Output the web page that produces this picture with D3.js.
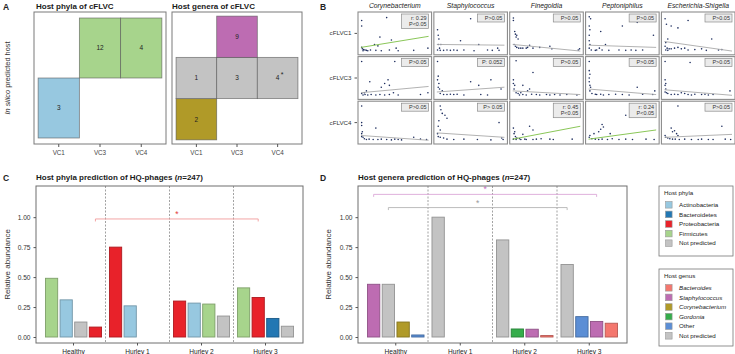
<!DOCTYPE html>
<html>
<head>
<meta charset="utf-8">
<style>
body { margin: 0; background: #fff; }
svg { display: block; font-family: "Liberation Sans", Arial, sans-serif; }
</style>
</head>
<body>
<script src="https://cdn.jsdelivr.net/npm/d3@7"></script>
<div id="chart"></div>
<script>
// ---------- data ----------
// panel A
var vcCats = ["VC1", "VC3", "VC4"];
var phylaRows = ["Actinobacteria", "Firmicutes"];
var phylaTiles = [
    ["VC1", "Actinobacteria", 3, ""],
    ["VC3", "Firmicutes", 12, ""],
    ["VC4", "Firmicutes", 4, ""]
];
var generaRows = ["Corynebacterium", "Not predicted", "Staphylococcus"];
var generaTiles = [
    ["VC1", "Corynebacterium", 2, ""],
    ["VC1", "Not predicted", 1, ""],
    ["VC3", "Not predicted", 3, ""],
    ["VC4", "Not predicted", 4, "*"],
    ["VC3", "Staphylococcus", 9, ""]
];

// panel B
var bGenera = ["Corynebacterium", "Staphylococcus", "Finegoldia", "Peptoniphilus", "Escherichia-Shigella"];
var bVCs = ["cFLVC1", "cFLVC3", "cFLVC4"];
var bStats = [
    ["r: 0.29\nP<0.05", "P>0.05", "P>0.05", "P>0.05", "P>0.05"],
    ["P>0.05", "P: 0.052", "P>0.05", "P>0.05", "P>0.05"],
    ["P>0.05", "P> 0.05", "r: 0.45\nP<0.05", "r: 0.24\nP<0.05", "P>0.05"]
];
// fitted line, y at left and right edge of each panel (0-1 of panel range)
var bLines = [
    [[0.12, 0.42], [0.2, 0.18], [0.2, 0.02], [0.18, 0.12], [0.28, 0.02]],
    [[0.1, 0.27], [0.12, 0.25], [0.15, 0.05], [0.2, 0.05], [0.18, 0.03]],
    [[0.15, 0.02], [0.22, 0.1], [0.05, 0.4], [0.05, 0.3], [0.1, 0.18]]
];
var bSignif = [
    [true, false, false, false, false],
    [false, false, false, false, false],
    [false, false, true, true, false]
];
// scatter points, [x, y] as share of the panel range
var bPoints = [
    [
        [[.01,.85],[.01,.7],[.38,.93],[.28,.4],[.45,.32],[.52,.1],[.2,.2],[.25,.16],[.01,.12],[.02,.08],[.04,.06],[.06,.05],[.08,.04],[.03,.03],[.1,.03],[.14,.05],[.22,.04],[.3,.03],[.42,.05],[.55,.03],[.78,.04],[.99,.1]],
        [[.01,.6],[.02,.45],[.03,.35],[.02,.2],[.06,.2],[.04,.1],[.1,.04],[.15,.05],[.2,.04],[.25,.05],[.3,.04],[.4,.05],[.55,.03],[.62,.2],[.75,.05],[.82,.04],[.9,.1],[.92,.04],[.5,.9],[.35,.3],[.01,.05],[.05,.04]],
        [[.01,.92],[.01,.85],[.03,.55],[.04,.48],[.06,.45],[.05,.4],[.08,.35],[.02,.2],[.04,.15],[.06,.12],[.09,.1],[.12,.1],[.15,.1],[.2,.1],[.22,.12],[.3,.1],[.25,.18],[.4,.12],[.55,.15],[.58,.08],[.97,.05],[.99,.08]],
        [[.01,.95],[.03,.9],[.01,.7],[.02,.6],[.01,.45],[.01,.3],[.02,.2],[.01,.1],[.04,.05],[.1,.04],[.12,.05],[.16,.1],[.2,.05],[.25,.2],[.18,.55],[.5,.7],[.72,.8],[.96,.45],[.3,.04],[.45,.05],[.55,.04],[.63,.05],[.7,.04],[.8,.05]],
        [[.01,.9],[.03,.75],[.1,.7],[.2,.65],[.35,.85],[.05,.35],[.02,.25],[.01,.15],[.04,.1],[.07,.08],[.1,.08],[.15,.1],[.2,.12],[.25,.08],[.3,.1],[.35,.05],[.45,.06],[.55,.08],[.62,.04],[.7,.35],[.8,.05],[.85,.06],[.02,.05],[.05,.04]]
    ],
    [
        [[.01,.95],[.5,.95],[.13,.4],[.35,.35],[.4,.45],[.42,.3],[.3,.25],[.05,.1],[.01,.08],[.03,.04],[.06,.05],[.1,.04],[.15,.05],[.22,.04],[.28,.05],[.35,.04],[.42,.05],[.48,.1],[.55,.04],[.88,.05],[.99,.1],[.08,.15]],
        [[.01,.95],[.02,.55],[.01,.45],[.03,.35],[.02,.25],[.04,.2],[.08,.15],[.5,.4],[.8,.45],[.62,.3],[.95,.2],[.05,.08],[.1,.05],[.15,.05],[.2,.06],[.25,.05],[.3,.06],[.4,.04],[.65,.05],[.75,.04]],
        [[.05,.97],[.3,.65],[.01,.45],[.01,.35],[.03,.3],[.02,.2],[.15,.3],[.25,.2],[.22,.15],[.05,.1],[.08,.08],[.12,.1],[.1,.04],[.15,.05],[.2,.04],[.28,.06],[.35,.05],[.4,.04],[.5,.05],[.55,.04],[.62,.05],[.7,.04],[.8,.05],[.95,.04]],
        [[.01,.95],[.01,.7],[.02,.6],[.01,.5],[.01,.4],[.02,.3],[.03,.25],[.02,.15],[.05,.08],[.1,.06],[.12,.05],[.18,.06],[.22,.04],[.3,.05],[.4,.06],[.5,.05],[.6,.04],[.72,.25],[.8,.06],[.98,.15],[.95,.05]],
        [[.01,.95],[.38,.92],[.01,.45],[.02,.35],[.01,.3],[.02,.2],[.01,.12],[.03,.1],[.05,.08],[.1,.05],[.15,.06],[.2,.05],[.25,.1],[.3,.08],[.35,.05],[.4,.04],[.45,.06],[.55,.05],[.6,.06],[.65,.04],[.72,.05],[.97,.15]]
    ],
    [
        [[.01,.95],[.01,.5],[.01,.42],[.22,.35],[.02,.25],[.01,.2],[.01,.12],[.03,.1],[.05,.06],[.08,.04],[.12,.05],[.18,.04],[.25,.04],[.3,.05],[.38,.04],[.45,.03],[.5,.05],[.55,.04],[.6,.03],[.78,.1],[.88,.05],[.97,.04]],
        [[.05,.95],[.06,.85],[.08,.75],[.12,.7],[.15,.62],[.03,.55],[.02,.4],[.05,.3],[.01,.2],[.02,.12],[.05,.1],[.1,.08],[.15,.05],[.25,.04],[.4,.05],[.6,.04],[.8,.03],[.92,.5],[.96,.08],[.98,.04]],
        [[.01,.35],[.03,.25],[.02,.2],[.25,.4],[.3,.3],[.15,.18],[.04,.12],[.06,.08],[.1,.06],[.12,.04],[.18,.05],[.2,.04],[.3,.04],[.35,.05],[.42,.06],[.55,.05],[.6,.04],[.88,.05],[.05,.04],[.01,.05]],
        [[.72,.98],[.55,.7],[.2,.45],[.22,.38],[.18,.32],[.15,.25],[.08,.2],[.32,.2],[.02,.15],[.01,.1],[.05,.06],[.1,.05],[.15,.04],[.2,.05],[.28,.04],[.35,.06],[.45,.04],[.55,.05],[.65,.04],[.85,.05],[.97,.04]],
        [[.2,.95],[.1,.35],[.15,.28],[.12,.25],[.18,.2],[.2,.15],[.01,.15],[.02,.1],[.05,.08],[.08,.06],[.12,.05],[.16,.05],[.22,.04],[.3,.05],[.4,.04],[.5,.04],[.55,.05],[.65,.04],[.72,.04],[.85,.4],[.9,.05],[.98,.04]]
    ]
];

// panels C and D
var groups = ["Healthy", "Hurley 1", "Hurley 2", "Hurley 3"];
var yTicks = [0, 0.25, 0.5, 0.75, 1];
// each group: [host, relative abundance], in drawing order
var phylaHealthy = [["Firmicutes", 0.49], ["Actinobacteria", 0.31], ["Not predicted", 0.125], ["Proteobacteria", 0.083]];
var phylaHurley1 = [["Proteobacteria", 0.75], ["Actinobacteria", 0.26]];
var phylaHurley2 = [["Proteobacteria", 0.30], ["Actinobacteria", 0.283], ["Firmicutes", 0.275], ["Not predicted", 0.175]];
var phylaHurley3 = [["Firmicutes", 0.41], ["Proteobacteria", 0.33], ["Bacteroidetes", 0.155], ["Not predicted", 0.09]];
var genusHealthy = [["Staphylococcus", 0.44], ["Not predicted", 0.44], ["Corynebacterium", 0.125], ["Other", 0.017]];
var genusHurley1 = [["Not predicted", 1.0]];
var genusHurley2 = [["Not predicted", 0.81], ["Gordonia", 0.067], ["Staphylococcus", 0.065], ["Bacteroides", 0.012]];
var genusHurley3 = [["Not predicted", 0.605], ["Other", 0.17], ["Staphylococcus", 0.13], ["Bacteroides", 0.115]];

var phylaKeys = ["Actinobacteria", "Bacteroidetes", "Proteobacteria", "Firmicutes", "Not predicted"];
var phylaFill = ["#97c8e0", "#2277b3", "#e8222a", "#a7d48c", "#c3c3c3"];
var genusKeys = ["Bacteroides", "Staphylococcus", "Corynebacterium", "Gordonia", "Other", "Not predicted"];
var genusFill = ["#f4776e", "#bd6cb2", "#b09a28", "#35ad4b", "#5b8ed5", "#c3c3c3"];

// significance brackets: [from group, from host, to group, to host, line colour, star colour, level]
var phylaBrackets = [["Healthy", "Proteobacteria", "Hurley 3", "Proteobacteria", "#f29b9b", "#e23c3c", 0.985]];
var genusBrackets = [
    ["Healthy", "Staphylococcus", "Hurley 3", "Staphylococcus", "#dba8d8", "#c46fbf", 1.19],
    ["Healthy", "Not predicted", "Hurley 3", "Not predicted", "#b5b5b5", "#999999", 1.08]
];

// ---------- chart ----------
var svg = d3.select("#chart").append("svg")
    .attr("width", 735)
    .attr("height", 354);

var phylaColor = d3.scaleOrdinal().domain(phylaKeys).range(phylaFill);
var genusColor = d3.scaleOrdinal().domain(genusKeys).range(genusFill);

function panelLetter(t, x, y) {
    svg.append("text").attr("x", x).attr("y", y)
        .attr("font-size", 8.5).attr("font-weight", "bold").attr("fill", "#222").text(t);
}
function title(x, y, parts) {
    var t = svg.append("text").attr("x", x).attr("y", y)
        .attr("font-size", 8).attr("font-weight", "bold").attr("fill", "#1a1a1a");
    parts.forEach(function(p) {
        t.append("tspan").attr("font-style", p[1] ? "italic" : null).text(p[0]);
    });
}

// panel A
panelLetter("A", 3, 10);
title(36, 9, [["Host phyla of cFLVC"]]);
title(172, 9, [["Host genera of cFLVC"]]);

var ylab = svg.append("text")
    .attr("transform", "translate(10,78) rotate(-90)")
    .attr("text-anchor", "middle").attr("font-size", 7.4).attr("fill", "#333");
ylab.append("tspan").attr("font-style", "italic").text("In silico");
ylab.append("tspan").text(" predicted host");

function tilePanel(left, right, top, bottom, rows, tiles, colorOf) {
    var x = d3.scaleBand().domain(vcCats).range([left, right]).paddingOuter(0.1);
    var y = d3.scaleBand().domain(rows).range([bottom, top]).paddingOuter(0.1);
    var g = svg.append("g");
    g.selectAll("rect.tile").data(tiles).enter().append("rect")
        .attr("x", function(d) { return x(d[0]); })
        .attr("y", function(d) { return y(d[1]); })
        .attr("width", x.bandwidth())
        .attr("height", y.bandwidth())
        .attr("fill", function(d) { return colorOf(d[1]); })
        .attr("stroke", "#555").attr("stroke-opacity", 0.7).attr("stroke-width", 0.8);
    g.selectAll("text.num").data(tiles).enter().append("text")
        .attr("x", function(d) { return x(d[0]) + x.bandwidth() / 2; })
        .attr("y", function(d) { return y(d[1]) + y.bandwidth() / 2 + 2.3; })
        .attr("text-anchor", "middle").attr("font-size", 6.5).attr("fill", "#222")
        .text(function(d) { return d[2]; });
    g.selectAll("text.star").data(tiles.filter(function(d) { return d[3]; })).enter().append("text")
        .attr("x", function(d) { return x(d[0]) + x.bandwidth() / 2 + 3; })
        .attr("y", function(d) { return y(d[1]) + y.bandwidth() / 2 - 1; })
        .attr("font-size", 7).attr("fill", "#222")
        .text(function(d) { return d[3]; });
    g.append("rect").attr("x", left).attr("y", top)
        .attr("width", right - left).attr("height", bottom - top)
        .attr("fill", "none").attr("stroke", "#7a7a7a").attr("stroke-width", 1);
    var ax = g.append("g").attr("transform", "translate(0," + bottom + ")")
        .call(d3.axisBottom(x).tickSize(3).tickSizeOuter(0));
    ax.select(".domain").remove();
    ax.selectAll("line").attr("stroke", "#555");
    ax.selectAll("text").attr("font-size", 6.3).attr("fill", "#444").attr("font-family", null).attr("dy", "0.8em");
}
tilePanel(34, 166, 12, 144, phylaRows, phylaTiles, phylaColor);
tilePanel(172, 302, 12, 144, generaRows, generaTiles, genusColor);

// panel B
panelLetter("B", 320, 10);
var bCol = d3.scaleBand().domain(bGenera).range([358, 735]).paddingInner(0.03);
var bRow = d3.scaleBand().domain(bVCs).range([12, 144]).paddingInner(0.04);

svg.selectAll("text.coltitle").data(bGenera).enter().append("text")
    .attr("x", function(d) { return bCol(d) + bCol.bandwidth() / 2; })
    .attr("y", 7.5)
    .attr("text-anchor", "middle").attr("font-size", 6.8).attr("font-style", "italic").attr("fill", "#222")
    .text(function(d) { return d; });

var rowAxis = svg.append("g").attr("transform", "translate(357,0)")
    .call(d3.axisLeft(bRow).tickSize(2.5).tickSizeOuter(0));
rowAxis.select(".domain").remove();
rowAxis.selectAll("line").attr("stroke", "#555");
rowAxis.selectAll("text").attr("font-size", 6.2).attr("fill", "#333").attr("font-family", null);

bVCs.forEach(function(vc, r) {
    bGenera.forEach(function(gen, c) {
        var x0 = bCol(gen), y0 = bRow(vc), w = bCol.bandwidth(), h = bRow.bandwidth();
        var px = d3.scaleLinear().domain([0, 1]).range([x0 + 3, x0 + w - 3]);
        var py = d3.scaleLinear().domain([0, 1]).range([y0 + h - 3, y0 + 3]);
        var g = svg.append("g");
        g.append("rect").attr("x", x0).attr("y", y0).attr("width", w).attr("height", h)
            .attr("fill", "#fff");
        g.selectAll("circle").data(bPoints[r][c]).enter().append("circle")
            .attr("cx", function(d) { return px(d[0]); })
            .attr("cy", function(d) { return py(d[1]); })
            .attr("r", 0.8).attr("fill", "#1d2d5e");
        var ln = bLines[r][c];
        g.append("line")
            .attr("x1", px(0)).attr("y1", py(ln[0]))
            .attr("x2", px(1)).attr("y2", py(ln[1]))
            .attr("stroke", bSignif[r][c] ? "#7dbf45" : "#a9a9a9").attr("stroke-width", 0.9);
        g.append("rect").attr("x", x0).attr("y", y0).attr("width", w).attr("height", h)
            .attr("fill", "none").attr("stroke", "#8c8c8c").attr("stroke-width", 1.1);
        var lines = bStats[r][c].split("\n");
        var bh = lines.length * 6.5 + 1.5;
        g.append("rect").attr("x", x0 + w - 30).attr("y", y0 + 2)
            .attr("width", 27).attr("height", bh)
            .attr("fill", "#ebebeb").attr("stroke", "#8c8c8c").attr("stroke-width", 0.7);
        lines.forEach(function(s, i) {
            g.append("text").attr("x", x0 + w - 5).attr("y", y0 + 7.5 + i * 6.5)
                .attr("text-anchor", "end").attr("font-size", 5.5).attr("fill", "#333").text(s);
        });
    });
});

// panels C and D
function barPanel(box, data, colorOf, brackets, axisLabelX) {
    var x = d3.scaleBand().domain(groups).range([box.left + 5.5, box.right - 5.5]);
    var slot = d3.scaleBand().domain([0, 1, 2, 3]).range([0, x.bandwidth()])
        .paddingInner(0.163).paddingOuter(0.27);
    var y = d3.scaleLinear().domain([-0.05, 1.26]).range([box.bottom, box.top]);
    var g = svg.append("g");

    // dashed group separators
    g.selectAll("line.sep").data(groups.slice(1)).enter().append("line")
        .attr("x1", function(d) { return x(d) - (x.step() - x.bandwidth()) / 2; })
        .attr("x2", function(d) { return x(d) - (x.step() - x.bandwidth()) / 2; })
        .attr("y1", box.top).attr("y2", box.bottom)
        .attr("stroke", "#8a8a8a").attr("stroke-width", 0.8).attr("stroke-dasharray", "2,1.5");

    var flat = [];
    groups.forEach(function(gr, gi) {
        data[gi].forEach(function(d, i) { flat.push({group: gr, host: d[0], value: d[1], i: i}); });
    });
    g.selectAll("rect.bar").data(flat).enter().append("rect")
        .attr("x", function(d) { return x(d.group) + slot(d.i); })
        .attr("y", function(d) { return y(d.value); })
        .attr("width", slot.bandwidth())
        .attr("height", function(d) { return y(0) - y(d.value); })
        .attr("fill", function(d) { return colorOf(d.host); })
        .attr("stroke", function(d) { return d3.color(colorOf(d.host)).darker(0.8); })
        .attr("stroke-width", 0.9);

    function centerOf(gr, host) {
        var gi = groups.indexOf(gr);
        var idx = data[gi].findIndex(function(d) { return d[0] === host; });
        return x(gr) + slot(idx) + slot.bandwidth() / 2;
    }
    brackets.forEach(function(b) {
        var xa = centerOf(b[0], b[1]), xb = centerOf(b[2], b[3]), yy = y(b[6]);
        g.append("path")
            .attr("d", "M" + xa + "," + (yy + 2.5) + "V" + yy + "H" + xb + "V" + (yy + 2.5))
            .attr("fill", "none").attr("stroke", b[4]).attr("stroke-width", 0.9);
        g.append("text").attr("x", (xa + xb) / 2).attr("y", yy - 2)
            .attr("text-anchor", "middle").attr("font-size", 8.5).attr("fill", b[5]).text("*");
    });

    g.append("rect").attr("x", box.left).attr("y", box.top)
        .attr("width", box.right - box.left).attr("height", box.bottom - box.top)
        .attr("fill", "none").attr("stroke", "#6e6e6e").attr("stroke-width", 1);

    var ay = g.append("g").attr("transform", "translate(" + box.left + ",0)")
        .call(d3.axisLeft(y).tickValues(yTicks).tickFormat(d3.format(".2f")).tickSize(2.5));
    ay.select(".domain").remove();
    ay.selectAll("line").attr("stroke", "#555");
    ay.selectAll("text").attr("font-size", 6.6).attr("fill", "#333").attr("font-family", null);

    var ax = g.append("g").attr("transform", "translate(0," + box.bottom + ")")
        .call(d3.axisBottom(x).tickSize(2.5).tickSizeOuter(0));
    ax.select(".domain").remove();
    ax.selectAll("line").attr("stroke", "#555");
    ax.selectAll("text").attr("font-size", 6.6).attr("fill", "#222").attr("font-family", null).attr("dy", "0.85em");

    g.append("text")
        .attr("transform", "translate(" + axisLabelX + "," + (box.top + box.bottom) / 2 + ") rotate(-90)")
        .attr("text-anchor", "middle").attr("font-size", 8).attr("fill", "#333")
        .text("Relative abundance");
}

panelLetter("C", 3, 181);
title(36, 180, [["Host phyla prediction of HQ-phages ("], ["n", true], ["=247)"]]);
barPanel({left: 36, right: 303, top: 186, bottom: 343},
    [phylaHealthy, phylaHurley1, phylaHurley2, phylaHurley3],
    phylaColor, phylaBrackets, 10);

panelLetter("D", 320, 181);
title(358, 180, [["Host genera prediction of HQ-phages ("], ["n", true], ["=247)"]]);
barPanel({left: 358, right: 627, top: 186, bottom: 343},
    [genusHealthy, genusHurley1, genusHurley2, genusHurley3],
    genusColor, genusBrackets, 331);

// legends
function legend(top, bottom, heading, keys, colorOf, italic) {
    var g = svg.append("g");
    g.append("rect").attr("x", 659).attr("y", top).attr("width", 74).attr("height", bottom - top)
        .attr("fill", "#fff").attr("stroke", "#777").attr("stroke-width", 0.8);
    g.append("text").attr("x", 664).attr("y", top + 9).attr("font-size", 6.2).attr("fill", "#222").text(heading);
    var ly = d3.scaleBand().domain(keys).range([top + 14, top + 14 + keys.length * 9.6]);
    keys.forEach(function(k) {
        var cy = ly(k) + ly.bandwidth() / 2;
        g.append("rect").attr("x", 665.5).attr("y", cy - 3.3).attr("width", 6.6).attr("height", 6.6)
            .attr("fill", colorOf(k)).attr("stroke", "#999").attr("stroke-width", 0.6);
        g.append("text").attr("x", 679).attr("y", cy + 2.2).attr("font-size", 6.2).attr("fill", "#222")
            .attr("font-style", italic && k !== "Other" && k !== "Not predicted" ? "italic" : null)
            .text(k);
    });
}
legend(186, 256, "Host phyla", phylaKeys, phylaColor, false);
legend(269, 346, "Host genus", genusKeys, genusColor, true);
</script>
</body>
</html>
